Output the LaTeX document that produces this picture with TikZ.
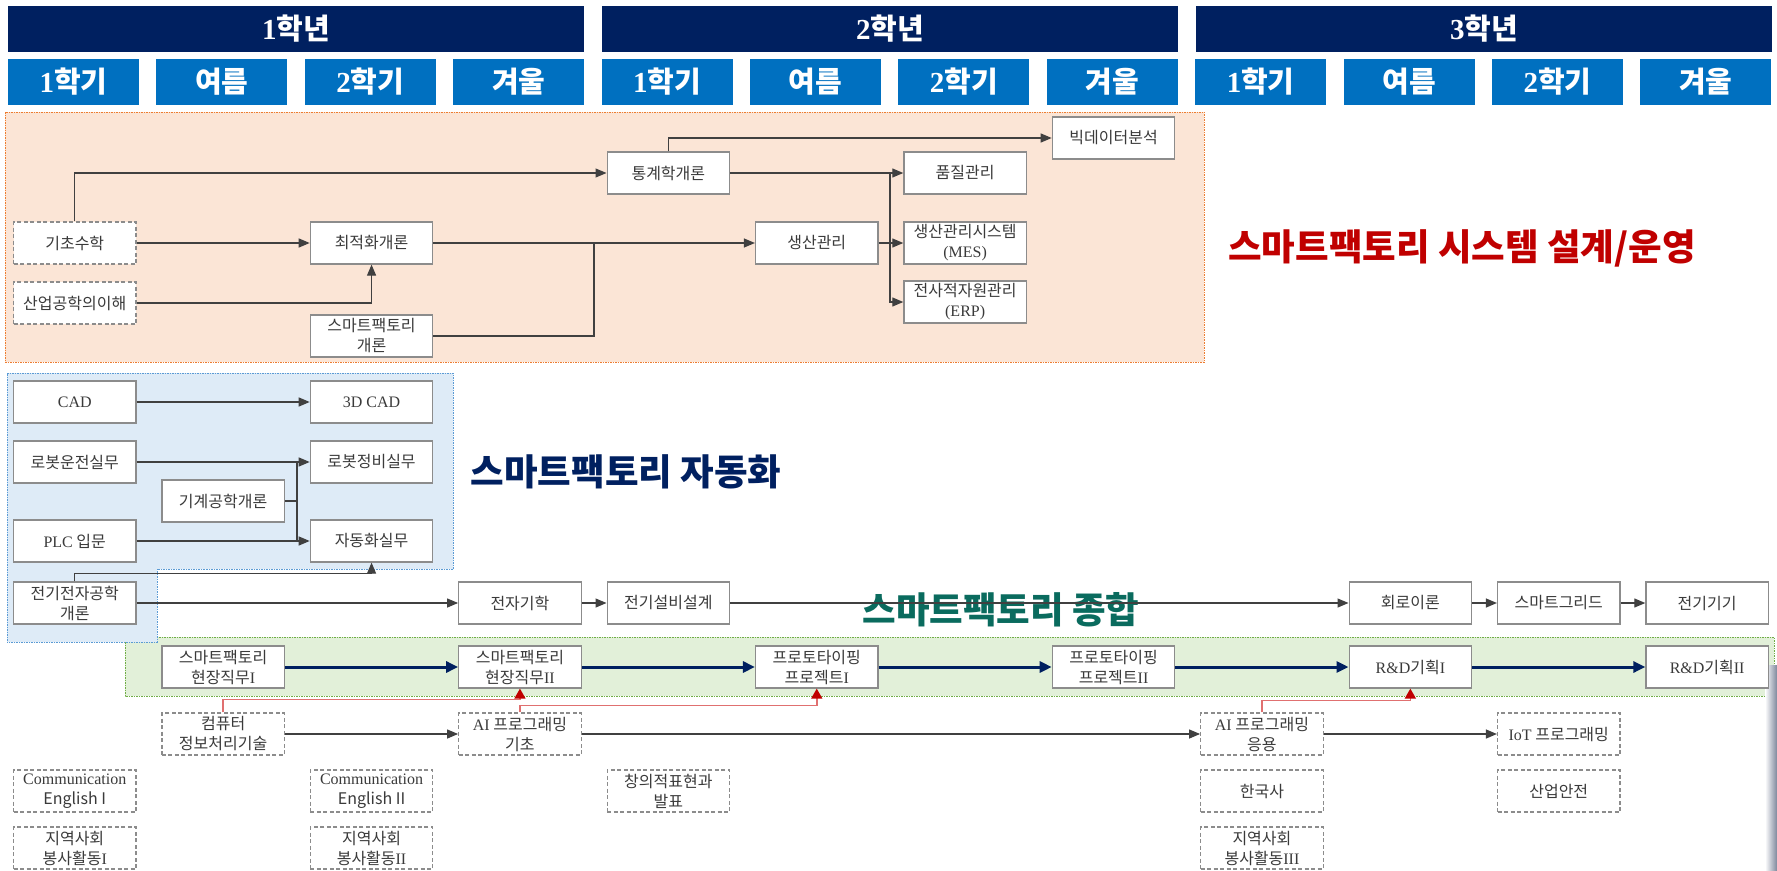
\documentclass[tikz,border=0pt]{standalone}
\usepackage{fontspec}
\setmainfont{Noto Sans CJK KR}
\newfontfamily\lat{Liberation Serif}
\usetikzlibrary{arrows.meta,calc}
\definecolor{navy}{HTML}{002060}
\definecolor{hblue}{HTML}{0070C0}
\definecolor{linegray}{HTML}{404040}
\definecolor{boxgray}{HTML}{8C8C8C}
\definecolor{textgray}{HTML}{3A3A3A}
\definecolor{orfill}{HTML}{FBE5D6}
\definecolor{ordraw}{HTML}{ED7D31}
\definecolor{blfill}{HTML}{DEEBF7}
\definecolor{bldraw}{HTML}{5B9BD5}
\definecolor{grfill}{HTML}{E2F0D9}
\definecolor{grdraw}{HTML}{70AD47}
\definecolor{titlered}{HTML}{C00000}
\definecolor{titleteal}{HTML}{0A6B5E}
\definecolor{redline}{HTML}{E07070}
\definecolor{redtip}{HTML}{C00000}
\begin{document}
\begin{tikzpicture}[x=1pt,y=-1pt,
  yearbox/.style={fill=navy, minimum width=576pt, minimum height=46pt, inner sep=0pt, text=white, font=\fontsize{29}{34}\selectfont\bfseries},
  sembox/.style={fill=hblue, minimum width=131pt, minimum height=46pt, inner sep=0pt, text=white, font=\fontsize{29}{34}\selectfont\bfseries},
  cbox/.style={draw=boxgray, line width=1.2pt, fill=white, minimum width=122.5pt, minimum height=42pt, inner sep=0pt, align=center, text=textgray, font=\fontsize{16}{20}\selectfont},
  dbox/.style={cbox, dash pattern=on 4pt off 2.5pt},
  conn/.style={draw=linegray, line width=1.2pt, -{Triangle[length=11pt,width=9pt]}},
  plain/.style={draw=linegray, line width=1.2pt},
  navyconn/.style={draw=navy, line width=3pt, -{Triangle[length=12pt,width=11pt]}},
  redconn/.style={draw=redline, line width=1.5pt, -{Triangle[length=10pt,width=11pt,color=redtip]}},
  title/.style={font=\fontsize{36.5}{42}\selectfont\bfseries, inner sep=0pt}
]
\useasboundingbox (0,0) rectangle (1777,870);
\fill[white] (0,0) rectangle (1777,870);

% header
\node[yearbox] (y1) at (296,28.5) {{\lat 1}학년};
\node[yearbox] (y2) at (890,28.5) {{\lat 2}학년};
\node[yearbox] (y3) at (1484,28.5) {{\lat 3}학년};
\node[sembox] (s1) at (73.5,81.5) {{\lat 1}학기};
\node[sembox] (s2) at (221.9,81.5) {여름};
\node[sembox] (s3) at (370.3,81.5) {{\lat 2}학기};
\node[sembox] (s4) at (518.7,81.5) {겨울};
\node[sembox] (s5) at (667.1,81.5) {{\lat 1}학기};
\node[sembox] (s6) at (815.5,81.5) {여름};
\node[sembox] (s7) at (963.9,81.5) {{\lat 2}학기};
\node[sembox] (s8) at (1112.3,81.5) {겨울};
\node[sembox] (s9) at (1260.7,81.5) {{\lat 1}학기};
\node[sembox] (s10) at (1409.1,81.5) {여름};
\node[sembox] (s11) at (1557.5,81.5) {{\lat 2}학기};
\node[sembox] (s12) at (1705.9,81.5) {겨울};

% regions
\draw[draw=ordraw, fill=orfill, line width=0.8pt, dash pattern=on 1.5pt off 1pt] (5,112) rectangle (1204,362);
\draw[draw=grdraw, fill=grfill, line width=0.8pt, dash pattern=on 1.5pt off 1pt] (125,637) rectangle (1774,696);
\draw[draw=bldraw, fill=blfill, line width=0.8pt, dash pattern=on 1.5pt off 1pt] (7,373) -- (453,373) -- (453,569) -- (157,569) -- (157,642) -- (7,642) -- cycle;
\shade[left color=white, right color={rgb,255:red,125;green,135;blue,155}] (1765,665) rectangle (1777,870);

% titles
\node[title, text=titlered] (t1) at (1462,248) {스마트팩토리 시스템 설계/운영};
\node[title, text=navy] (t2) at (626,472) {스마트팩토리 자동화};
\node[title, text=titleteal] (t3) at (1001,610) {스마트팩토리 종합};

% nodes: orange
\node[cbox] (bigdata) at (1113.55,138) {빅데이터분석};
\node[cbox] (tonggye) at (668.35,173) {통계학개론};
\node[cbox] (quality) at (965.15,173) {품질관리};
\node[dbox] (gicho) at (74.75,243) {기초수학};
\node[cbox] (choijeok) at (371.55,243) {최적화개론};
\node[cbox] (saengsan) at (816.75,243) {생산관리};
\node[cbox] (mes) at (965.15,243) {생산관리시스템\\{\lat (MES)}};
\node[dbox] (saneop) at (74.75,303) {산업공학의이해};
\node[cbox] (erp) at (965.15,302) {전사적자원관리\\{\lat (ERP)}};
\node[cbox] (sfintro) at (371.55,336) {스마트팩토리\\개론};

% nodes: blue
\node[cbox] (cad) at (74.75,402) {\lat CAD};
\node[cbox] (cad3d) at (371.55,402) {\lat 3D CAD};
\node[cbox] (robot1) at (74.75,462) {로봇운전실무};
\node[cbox] (robot2) at (371.55,462) {로봇정비실무};
\node[cbox] (mech) at (223.15,501) {기계공학개론};
\node[cbox] (plc) at (74.75,541) {{\lat PLC} 입문};
\node[cbox] (auto) at (371.55,541) {자동화실무};
\node[cbox] (elec) at (74.75,603) {전기전자공학\\개론};

% row 603
\node[cbox] (emag) at (519.95,603) {전자기학};
\node[cbox] (edesign) at (668.35,603) {전기설비설계};
\node[cbox] (circuit) at (1410.35,603) {회로이론};
\node[cbox] (grid) at (1558.75,603) {스마트그리드};
\node[cbox] (machine) at (1707.15,603) {전기기기};

% green row
\node[cbox] (sf1) at (223.15,667) {스마트팩토리\\현장직무{\lat I}};
\node[cbox] (sf2) at (519.95,667) {스마트팩토리\\현장직무{\lat II}};
\node[cbox] (proto1) at (816.75,667) {프로토타이핑\\프로젝트{\lat I}};
\node[cbox] (proto2) at (1113.55,667) {프로토타이핑\\프로젝트{\lat II}};
\node[cbox] (rd1) at (1410.35,667) {{\lat R\&D}기획{\lat I}};
\node[cbox] (rd2) at (1707.15,667) {{\lat R\&D}기획{\lat II}};

% AI row
\node[dbox] (comp) at (223.15,734) {컴퓨터\\정보처리기술};
\node[dbox] (aibase) at (519.95,734) {{\lat AI} 프로그래밍\\기초};
\node[dbox] (aiapp) at (1261.95,734) {{\lat AI} 프로그래밍\\응용};
\node[dbox] (iot) at (1558.75,734) {{\lat IoT} 프로그래밍};

% bottom rows
\node[dbox, font=\fontsize{16}{20}\selectfont] (eng1) at (74.75,791) {\lat Communication\\English I};
\node[dbox, font=\fontsize{16}{20}\selectfont] (eng2) at (371.55,791) {\lat Communication\\English II};
\node[dbox] (creative) at (668.35,791) {창의적표현과\\발표};
\node[dbox] (history) at (1261.95,791) {한국사};
\node[dbox] (safety) at (1558.75,791) {산업안전};
\node[dbox] (vol1) at (74.75,848) {지역사회\\봉사활동{\lat I}};
\node[dbox] (vol2) at (371.55,848) {지역사회\\봉사활동{\lat II}};
\node[dbox] (vol3) at (1261.95,848) {지역사회\\봉사활동{\lat III}};

% junction coordinates
\coordinate (j1) at (594,243);
\coordinate (j2) at (890,173);
\coordinate (j3) at (297,462);

% connectors (orange)
\draw[conn] (gicho.east) -- (choijeok.west);
\draw[conn] (gicho.north) |- (tonggye.west);
\draw[conn] (saneop.east) -| (choijeok.south);
\draw[conn] (choijeok.east) -- (saengsan.west);
\draw[plain] (sfintro.east) -| (j1);
\draw[conn] (tonggye.north) |- (bigdata.west);
\draw[conn] (tonggye.east) -- (quality.west);
\draw[conn] (j2) |- (erp.west);
\draw[conn] (saengsan.east) -- (mes.west);
% blue
\draw[conn] (cad.east) -- (cad3d.west);
\draw[conn] (robot1.east) -- (robot2.west);
\draw[plain] (j3) -- (j3 |- auto.west);
\draw[plain] (mech.east) -- (mech.east -| j3);
\draw[conn] (plc.east) -- (auto.west);
\draw[conn] (elec.north) -- ++(0,-8) -| (auto.south);
\draw[conn] (elec.east) -- (emag.west);
\draw[conn] (emag.east) -- (edesign.west);
\draw[conn] (edesign.east) -- (circuit.west);
\draw[conn] (circuit.east) -- (grid.west);
\draw[conn] (grid.east) -- (machine.west);
% green
\draw[navyconn] (sf1.east) -- (sf2.west);
\draw[navyconn] (sf2.east) -- (proto1.west);
\draw[navyconn] (proto1.east) -- (proto2.west);
\draw[navyconn] (proto2.east) -- (rd1.west);
\draw[navyconn] (rd1.east) -- (rd2.west);
% AI
\draw[conn] (comp.east) -- (aibase.west);
\draw[conn] (aibase.east) -- (aiapp.west);
\draw[conn] (aiapp.east) -- (iot.west);
% red
\draw[redconn] (comp.north) -- ++(0,-13) -| (sf2.south);
\draw[redconn] (aibase.north) -- ++(0,-7) -| (proto1.south);
\draw[redconn] (aiapp.north) -- ++(0,-12) -| (rd1.south);
\end{tikzpicture}
\end{document}
